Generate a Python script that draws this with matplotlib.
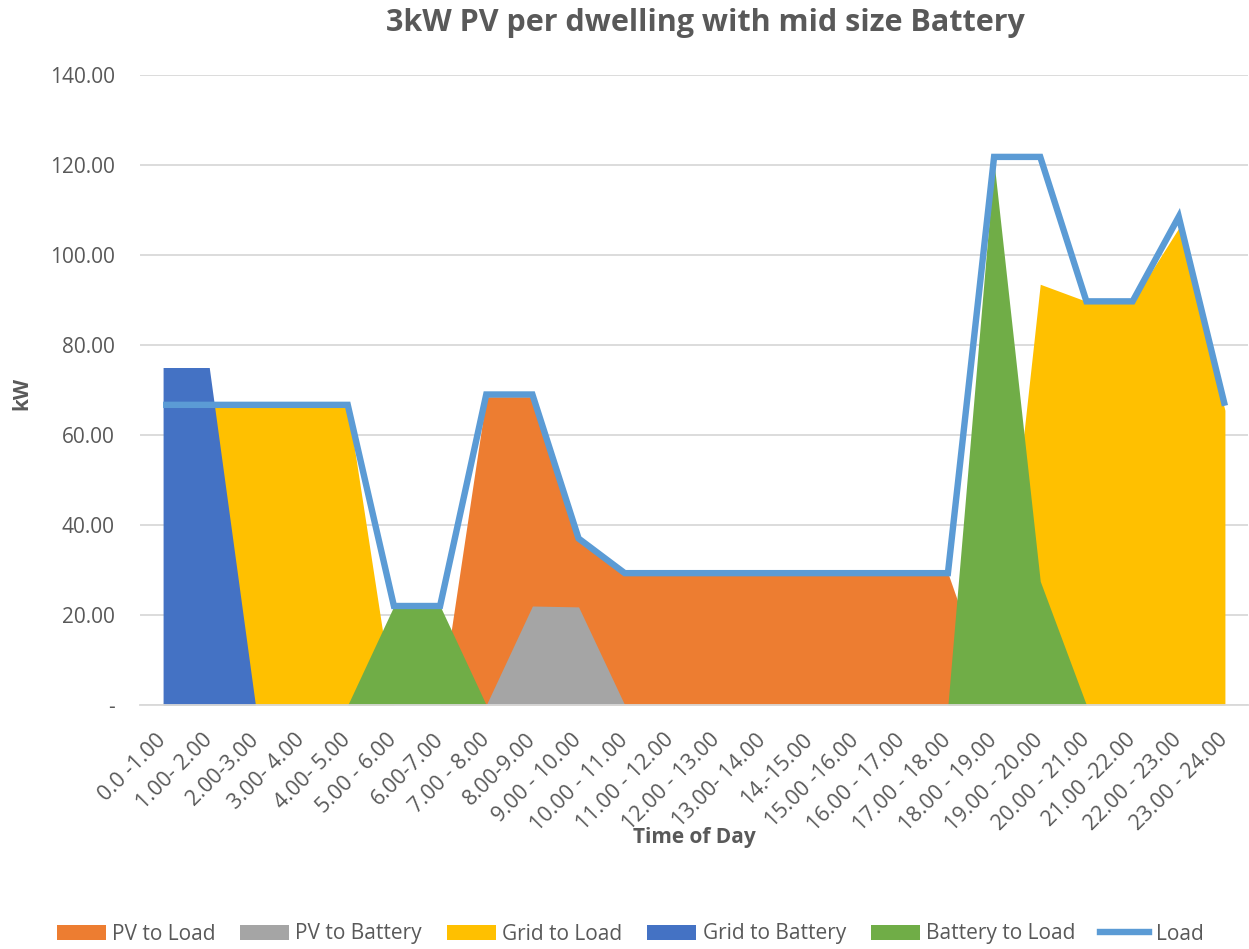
import matplotlib
matplotlib.use("Agg")
import matplotlib.pyplot as plt
import matplotlib.transforms as mtransforms
import numpy as np
from matplotlib.patches import Patch
from matplotlib.lines import Line2D

categories = ["0.0 -1.00", "1.00- 2.00", "2.00-3.00", "3.00- 4.00", "4.00- 5.00",
              "5.00 - 6.00", "6.00-7.00", "7.00 - 8.00", "8.00-9.00", "9.00 - 10.00",
              "10.00 - 11.00", "11.00 - 12.00", "12.00 - 13.00", "13.00- 14.00",
              "14.-15.00", "15.00 -16.00", "16.00 - 17.00", "17.00 - 18.00",
              "18.00 - 19.00", "19.00 - 20.00", "20.00 - 21.00", "21.00 -22.00",
              "22.00 - 23.00", "23.00 - 24.00"]

pv_to_load = [0, 0, 0, 0, 0, 0, 0, 68.5, 68.5, 37.0, 29.3, 29.3, 29.3, 29.3,
              29.3, 29.3, 29.3, 29.3, 0, 0, 0, 0, 0, 0]
pv_to_battery = [0, 0, 0, 0, 0, 0, 0, 0, 22.0, 21.8, 0, 0, 0, 0,
                 0, 0, 0, 0, 0, 0, 0, 0, 0, 0]
grid_to_load = [0, 66.7, 66.7, 66.7, 66.7, 0, 0, 0, 0, 0, 0, 0, 0, 0,
                0, 0, 0, 0, 0, 93.5, 89.7, 89.7, 106.0, 65.5]
grid_to_battery = [75.0, 75.0, 0, 0, 0, 0, 0, 0, 0, 0, 0, 0, 0, 0,
                   0, 0, 0, 0, 0, 0, 0, 0, 0, 0]
battery_to_load = [0, 0, 0, 0, 0, 22.0, 22.0, 0, 0, 0, 0, 0, 0, 0,
                   0, 0, 0, 0, 120.5, 27.5, 0, 0, 0, 0]
load = [66.7, 66.7, 66.7, 66.7, 66.7, 22.0, 22.0, 69.0, 69.0, 37.0, 29.3, 29.3,
        29.3, 29.3, 29.3, 29.3, 29.3, 29.3, 121.8, 121.8, 89.7, 89.7, 108.5, 66.5]

yticks = [0, 20, 40, 60, 80, 100, 120, 140]
ytick_labels = ["-", "20.00", "40.00", "60.00", "80.00", "100.00", "120.00", "140.00"]

series_names = ["PV to Load", "PV to Battery", "Grid to Load", "Grid to Battery",
                "Battery to Load", "Load"]
colors = ["#ED7D31", "#A5A5A5", "#FFC000", "#4472C4", "#70AD47", "#5B9BD5"]

plt.rcParams['font.family'] = ['Open Sans', 'DejaVu Sans']
txt = "#595959"

fig = plt.figure(figsize=(12.49, 9.49), dpi=100)
ax = fig.add_axes([140/1249, 1-705/949, (1248-140)/1249, (705-75)/949])

x = np.arange(len(categories))
areas = [pv_to_load, pv_to_battery, grid_to_load, grid_to_battery, battery_to_load]
for vals, c in zip(areas, colors[:5]):
    ax.fill_between(x, 0, vals, color=c, lw=0, zorder=2)
ax.plot(x, load, color=colors[5], lw=4.6, solid_joinstyle='miter', solid_capstyle='butt', zorder=3)

ax.set_xlim(-0.5, len(categories) - 0.5)
ax.set_ylim(0, 140)
ax.set_yticks(yticks)
ax.set_yticklabels(ytick_labels, fontsize=15, color=txt)
ax.set_xticks(x)
ax.set_xticklabels(categories, fontsize=15.5, color=txt, rotation=45, ha='right',
                   va='center', rotation_mode='anchor')
offset = mtransforms.ScaledTranslation(6/100, 0, fig.dpi_scale_trans)
for lab in ax.get_xticklabels():
    lab.set_transform(lab.get_transform() + offset)
ax.tick_params(axis='both', length=0)
ax.tick_params(axis='y', pad=18)
ax.tick_params(axis='x', pad=23)
ax.grid(axis='y', color='#D9D9D9', lw=1.3, zorder=0)
ax.set_axisbelow(True)
for s in ['top', 'right', 'left']:
    ax.spines[s].set_visible(False)
ax.spines['bottom'].set_color('#D9D9D9')
ax.spines['bottom'].set_linewidth(1.3)

fig.text(705/1249, 1-23/949, "3kW PV per dwelling with mid size Battery", ha='center',
         va='center', fontsize=22, fontweight='bold', color=txt)
fig.text(694/1249, 1-837/949, "Time of Day", ha='center', va='center',
         fontsize=15, fontweight='bold', color=txt)
fig.text(22/1249, 1-393/949, "kW", ha='center', va='center', rotation=90,
         fontsize=15, fontweight='bold', color=txt)

handles = [Patch(facecolor=c, edgecolor='none') for c in colors[:5]]
handles.append(Line2D([0], [0], color=colors[5], lw=4.6))
fig.legend(handles, series_names, loc='center', bbox_to_anchor=(630/1249, 1-934/949),
           ncol=6, frameon=False, fontsize=15, labelcolor=txt, handlelength=2.35,
           handleheight=0.7, columnspacing=1.2, handletextpad=0.3)

fig.savefig("out.png", dpi=100)
